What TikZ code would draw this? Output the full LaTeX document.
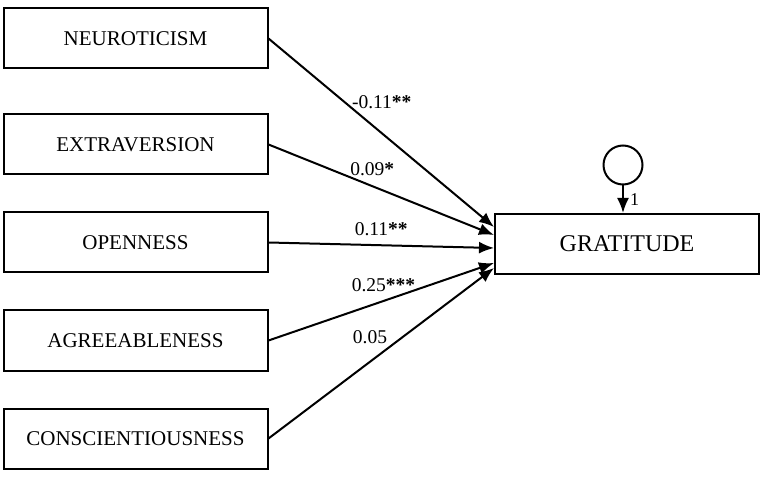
\documentclass[tikz,border=0pt]{standalone}
\usepackage{fontspec}
\setmainfont{Liberation Serif}
\usetikzlibrary{positioning,arrows.meta}

\begin{document}
\begin{tikzpicture}[x=1pt,y=-1pt,
    trait/.style={draw, line width=2pt, minimum width=264pt, minimum height=60pt,
        inner sep=0pt, font=\fontsize{21}{25}\selectfont},
    path/.style={line width=2pt, -{Latex[length=15pt,width=12pt]}},
    coef/.style={font=\fontsize{19.5}{23}\selectfont, inner sep=0pt}]
        \useasboundingbox (0,0) rectangle (763,478);
        \node[trait] (neuro) at (135.5,38.5) {NEUROTICISM};
        \node[trait, below=44pt of neuro] (extra) {EXTRAVERSION};
        \node[trait, below=36pt of extra] (open) {OPENNESS};
        \node[trait, below=36pt of open] (agree) {AGREEABLENESS};
        \node[trait, below=36pt of agree] (consc) {CONSCIENTIOUSNESS};
        \node[trait, font=\fontsize{24}{28}\selectfont] (grat) at (627,244) {GRATITUDE};
        \node[draw, circle, line width=2pt, minimum size=39pt, inner sep=0pt] (err) at (623,165) {};
        \draw[path] (neuro.east) -- ([yshift=17pt]grat.west)
            node[coef, pos=0.48, xshift=5pt, yshift=27pt] (l1) {-0.11\textbf{**}};
        \draw[path] (extra.east) -- ([yshift=9pt]grat.west)
            node[coef, pos=0.46, yshift=17pt] (l2) {0.09\textbf{*}};
        \draw[path] (open.east) -- ([yshift=-4pt]grat.west)
            node[coef, pos=0.5, yshift=16pt] (l3) {0.11\textbf{**}};
        \draw[path] (agree.east) -- ([yshift=-19pt]grat.west)
            node[coef, pos=0.51, yshift=16pt] (l4) {0.25\textbf{***}};
        \draw[path] (consc.east) -- ([yshift=-24pt]grat.west)
            node[coef, pos=0.45, yshift=25pt] (l5) {0.05};
        \draw[path] (err.south) -- (err.south |- grat.north)
            node[coef, midway, right=6pt, font=\fontsize{18}{20}\selectfont] (one) {1};
    \end{tikzpicture}
\end{document}
